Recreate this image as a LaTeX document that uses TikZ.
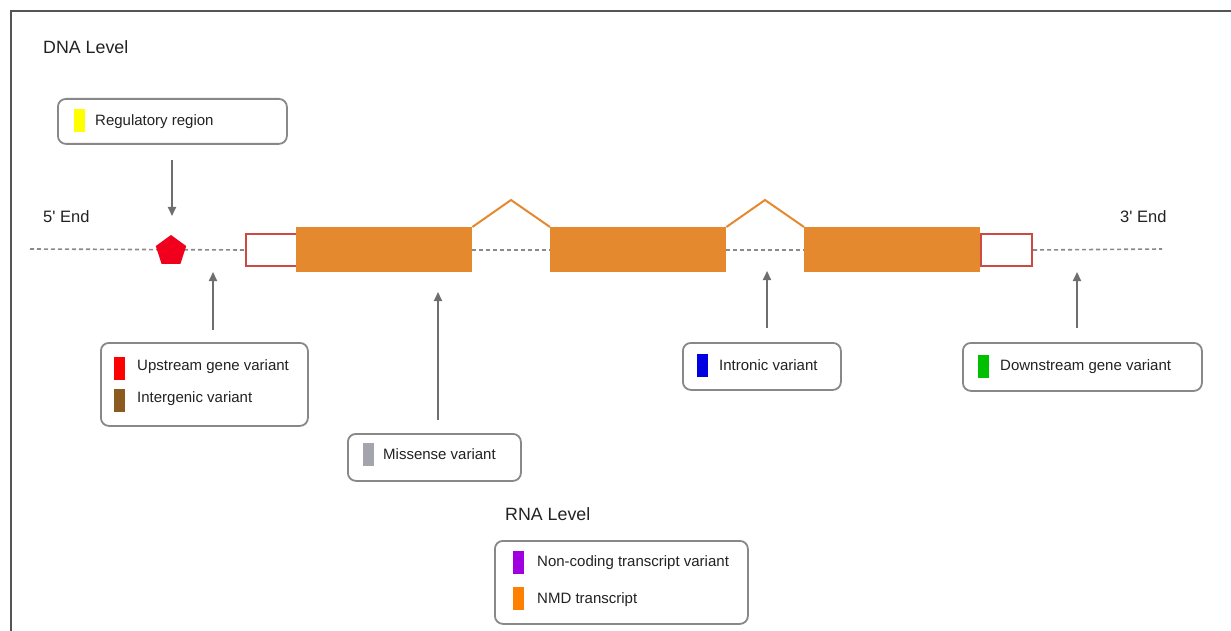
\documentclass[tikz,border=0pt]{standalone}
\usepackage{fontspec}
\setmainfont{Liberation Sans}
\usetikzlibrary{arrows.meta,shapes.geometric}
\definecolor{exon}{HTML}{E5892E}
\definecolor{utr}{HTML}{CC4A44}
\definecolor{boxgray}{HTML}{888888}
\definecolor{arrgray}{HTML}{6E6E6E}
\definecolor{dashgray}{HTML}{8A8A8A}
\definecolor{txt}{HTML}{222222}
\definecolor{frame}{HTML}{555555}
\definecolor{swyellow}{HTML}{FFFF00}
\definecolor{swred}{HTML}{FF0000}
\definecolor{swbrown}{HTML}{8B5A1E}
\definecolor{swgray}{HTML}{A4A4AC}
\definecolor{swblue}{HTML}{0000E0}
\definecolor{swgreen}{HTML}{00C000}
\definecolor{swpurple}{HTML}{A000E0}
\definecolor{sworange}{HTML}{FF8000}
\definecolor{pent}{HTML}{F0001C}
\begin{document}
\begin{tikzpicture}[x=1pt,y=-1pt,
  lbl/.style={font=\fontsize{15}{17}\selectfont, text=txt, anchor=west, inner sep=0pt},
  head/.style={font=\fontsize{17.8}{20}\selectfont, text=txt, anchor=west, inner sep=0pt},
  endlbl/.style={font=\fontsize{16.5}{19}\selectfont, text=txt, anchor=west, inner sep=0pt},
  legbox/.style={draw=boxgray, line width=1.8pt, rounded corners=8pt, anchor=north west, inner sep=0pt, fill=white},
  sw/.style={inner sep=0pt, minimum width=11pt, minimum height=23pt, anchor=north west},
  arr/.style={draw=arrgray, line width=2pt, -{Triangle[length=9pt,width=8pt]}},
  dnadash/.style={draw=dashgray, line width=1.6pt, dash pattern=on 4pt off 3pt},
  exonbox/.style={fill=exon, inner sep=0pt, anchor=north west},
  utrbox/.style={draw=utr, fill=white, line width=2pt, inner sep=0pt, anchor=north west},
  exline/.style={draw=exon, line width=2pt},
]
\useasboundingbox (0,0) rectangle (1231,631);
% frame
\draw[frame, line width=2pt] (11,631) -- (11,11) -- (1231,11);

% headings
\node[head] (dna) at (43,47) {DNA Level};
\node[head] (rna) at (505,514) {RNA Level};
\node[endlbl] (five) at (43,217) {5\textquotesingle{} End};
\node[endlbl] (three) at (1120,217) {3\textquotesingle{} End};

% gene structure
\coordinate (dstart) at (30,249);
\coordinate (dend) at (1162,249);
\node[utrbox, minimum width=51pt, minimum height=32pt] (utr5) at (245,233) {};
\node[exonbox, minimum width=176pt, minimum height=45pt] (ex1) at (296,227) {};
\node[exonbox, minimum width=176pt, minimum height=45pt] (ex2) at (550,227) {};
\node[exonbox, minimum width=176pt, minimum height=45pt] (ex3) at (804,227) {};
\node[utrbox, minimum width=51pt, minimum height=32pt] (utr3) at (980,233) {};
\draw[dnadash] (dstart) -- (utr5.west);
\draw[dnadash] (ex1.east) -- (ex2.west);
\draw[dnadash] (ex2.east) -- (ex3.west);
\draw[dnadash] (utr3.east) -- (dend);
\coordinate (peak1) at (511,200);
\coordinate (peak2) at (765,200);
\draw[exline] (ex1.north east) -- (peak1) -- (ex2.north west);
\draw[exline] (ex2.north east) -- (peak2) -- (ex3.north west);
\node[exonbox, minimum width=176pt, minimum height=45pt] at (296,227) {};
\node[regular polygon, regular polygon sides=5, minimum size=32pt, inner sep=0pt, fill=pent] (reg) at (171,251) {};

% regulatory box
\node[legbox, minimum width=229pt, minimum height=45pt] (regbox) at (57,98) {};
\node[sw, fill=swyellow] (swreg) at (74,109) {};
\node[lbl] (treg) at (95,121.5) {Regulatory region};
\coordinate (a1s) at (172,160);
\coordinate (a1e) at (172,216);
\draw[arr] (a1s) -- (a1e);

% upstream / intergenic
\node[legbox, minimum width=207pt, minimum height=83pt] (upbox) at (100,342) {};
\node[sw, fill=swred] (swup) at (114,357) {};
\node[sw, fill=swbrown] (swig) at (114,389) {};
\node[lbl] (tup) at (137,367) {Upstream gene variant};
\node[lbl] (tig) at (137,399) {Intergenic variant};
\coordinate (a2s) at (213,330);
\coordinate (a2e) at (213,272);
\draw[arr] (a2s) -- (a2e);

% missense
\node[legbox, minimum width=173pt, minimum height=47pt] (misbox) at (347,433) {};
\node[sw, fill=swgray] (swmis) at (363,443) {};
\node[lbl] (tmis) at (383,454) {Missense variant};
\coordinate (a3s) at (438,420);
\coordinate (a3e) at (438,292);
\draw[arr] (a3s) -- (a3e);

% intronic
\node[legbox, minimum width=158pt, minimum height=47pt] (intbox) at (682,342) {};
\node[sw, fill=swblue] (swint) at (697,354) {};
\node[lbl] (tint) at (719,365.5) {Intronic variant};
\coordinate (a4s) at (767,328);
\coordinate (a4e) at (767,271);
\draw[arr] (a4s) -- (a4e);

% downstream
\node[legbox, minimum width=239pt, minimum height=48pt] (dnbox) at (962,342) {};
\node[sw, fill=swgreen] (swdn) at (978,355) {};
\node[lbl] (tdn) at (1000,366.5) {Downstream gene variant};
\coordinate (a5s) at (1077,328);
\coordinate (a5e) at (1077,272);
\draw[arr] (a5s) -- (a5e);

% RNA level box
\node[legbox, minimum width=253pt, minimum height=83pt] (rnabox) at (494,540) {};
\node[sw, fill=swpurple] (swnc) at (513,551) {};
\node[sw, fill=sworange] (swnmd) at (513,587) {};
\node[lbl] (tnc) at (537,563) {Non-coding transcript variant};
\node[lbl] (tnmd) at (537,600) {NMD transcript};
\end{tikzpicture}
\end{document}
